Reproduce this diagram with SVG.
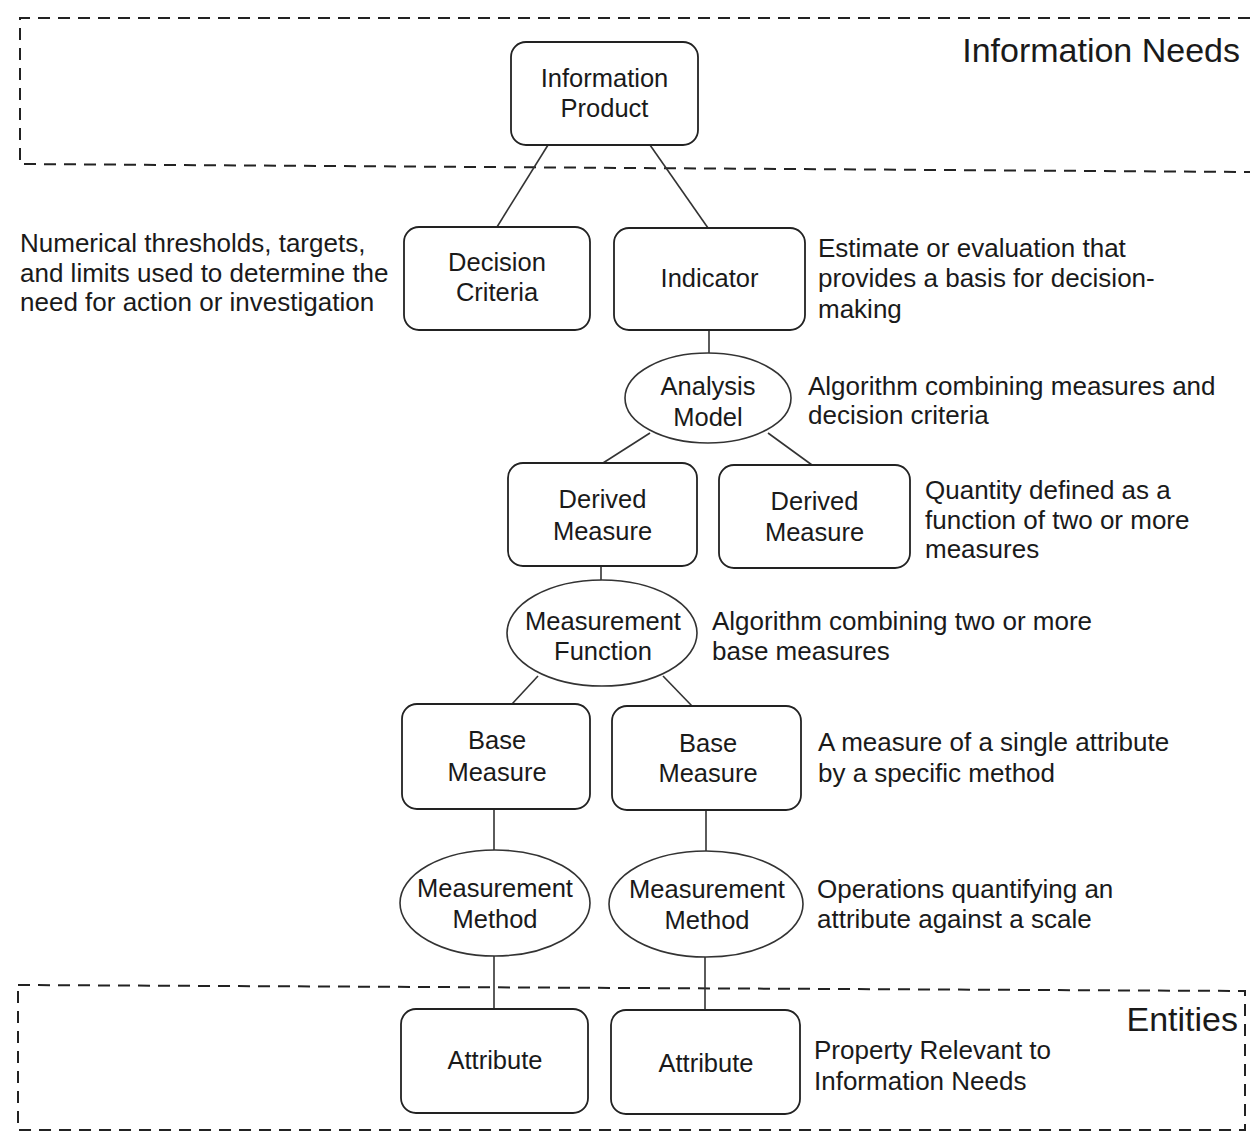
<svg xmlns="http://www.w3.org/2000/svg" width="1250" height="1135" viewBox="0 0 1250 1135">
<style>
  .bg{fill:#ffffff}
  .zone{fill:none;stroke:#222;stroke-width:2;stroke-dasharray:12 8}
  .box{fill:#ffffff;stroke:#222;stroke-width:1.8}
  .ell{fill:#ffffff;stroke:#333;stroke-width:1.6}
  .edge{stroke:#333;stroke-width:1.6;fill:none}
  text{font-family:"Liberation Sans",Arial,Helvetica,sans-serif;fill:#1a1a1a}
  .n{font-size:25.5px;text-anchor:middle}
  .d{font-size:26px}
  .t{font-size:34px;text-anchor:end}
</style>
<rect class="bg" x="0" y="0" width="1250" height="1135"/>

<g id="zone-information-needs">
  <path class="zone" d="M1250,18 H20 V164 L1250,172"/>
  <text class="t" x="1240" y="62">Information Needs</text>
</g>
<g id="zone-entities">
  <path class="zone" d="M18,985 L1245,991 V1130 H18 Z"/>
  <text class="t" x="1238" y="1031">Entities</text>
</g>

<g id="connectors">
  <line class="edge" x1="548" y1="145" x2="497" y2="227"/>
  <line class="edge" x1="650" y1="145" x2="708" y2="228"/>
  <line class="edge" x1="709" y1="330" x2="709" y2="353"/>
  <line class="edge" x1="650" y1="433" x2="603" y2="463"/>
  <line class="edge" x1="768" y1="433" x2="812" y2="465"/>
  <line class="edge" x1="601" y1="566" x2="601" y2="580"/>
  <line class="edge" x1="538" y1="676" x2="512" y2="704"/>
  <line class="edge" x1="663" y1="676" x2="692" y2="706"/>
  <line class="edge" x1="494" y1="809" x2="494" y2="850"/>
  <line class="edge" x1="706" y1="810" x2="706" y2="851"/>
  <line class="edge" x1="494" y1="956" x2="494" y2="1009"/>
  <line class="edge" x1="705" y1="957" x2="705" y2="1010"/>
</g>

<g id="information-product">
  <rect class="box" x="511" y="42" width="187" height="103" rx="15"/>
  <text class="n" x="604.5" y="87">Information</text>
  <text class="n" x="604.5" y="117">Product</text>
</g>

<g id="decision-criteria">
  <rect class="box" x="404" y="227" width="186" height="103" rx="15"/>
  <text class="n" x="497" y="271">Decision</text>
  <text class="n" x="497" y="301">Criteria</text>
  <text class="d" x="20" y="252">Numerical thresholds, targets,</text>
  <text class="d" x="20" y="282">and limits used to determine the</text>
  <text class="d" x="20" y="311">need for action or investigation</text>
</g>

<g id="indicator">
  <rect class="box" x="614" y="228" width="191" height="102" rx="15"/>
  <text class="n" x="709.5" y="287">Indicator</text>
  <text class="d" x="818" y="257">Estimate or evaluation that</text>
  <text class="d" x="818" y="287">provides a basis for decision-</text>
  <text class="d" x="818" y="318">making</text>
</g>

<g id="analysis-model">
  <ellipse class="ell" cx="708" cy="398" rx="83" ry="45"/>
  <text class="n" x="708" y="395">Analysis</text>
  <text class="n" x="708" y="426">Model</text>
  <text class="d" x="808" y="395">Algorithm combining measures and</text>
  <text class="d" x="808" y="424">decision criteria</text>
</g>

<g id="derived-measure-1">
  <rect class="box" x="508" y="463" width="189" height="103" rx="15"/>
  <text class="n" x="602.5" y="508">Derived</text>
  <text class="n" x="602.5" y="540">Measure</text>
</g>

<g id="derived-measure-2">
  <rect class="box" x="719" y="465" width="191" height="103" rx="15"/>
  <text class="n" x="814.5" y="510">Derived</text>
  <text class="n" x="814.5" y="541">Measure</text>
  <text class="d" x="925" y="499">Quantity defined as a</text>
  <text class="d" x="925" y="529">function of two or more</text>
  <text class="d" x="925" y="558">measures</text>
</g>

<g id="measurement-function">
  <ellipse class="ell" cx="602" cy="633" rx="95" ry="53"/>
  <text class="n" x="603" y="630">Measurement</text>
  <text class="n" x="603" y="660">Function</text>
  <text class="d" x="712" y="630">Algorithm combining two or more</text>
  <text class="d" x="712" y="660">base measures</text>
</g>

<g id="base-measure-1">
  <rect class="box" x="402" y="704" width="188" height="105" rx="15"/>
  <text class="n" x="497" y="749">Base</text>
  <text class="n" x="497" y="781">Measure</text>
</g>

<g id="base-measure-2">
  <rect class="box" x="612" y="706" width="189" height="104" rx="15"/>
  <text class="n" x="708" y="752">Base</text>
  <text class="n" x="708" y="782">Measure</text>
  <text class="d" x="818" y="751">A measure of a single attribute</text>
  <text class="d" x="818" y="782">by a specific method</text>
</g>

<g id="measurement-method-1">
  <ellipse class="ell" cx="495" cy="903" rx="95" ry="53"/>
  <text class="n" x="495" y="897">Measurement</text>
  <text class="n" x="495" y="928">Method</text>
</g>

<g id="measurement-method-2">
  <ellipse class="ell" cx="706" cy="904" rx="97" ry="53"/>
  <text class="n" x="707" y="898">Measurement</text>
  <text class="n" x="707" y="929">Method</text>
  <text class="d" x="817" y="898">Operations quantifying an</text>
  <text class="d" x="817" y="928">attribute against a scale</text>
</g>

<g id="attribute-1">
  <rect class="box" x="401" y="1009" width="187" height="104" rx="15"/>
  <text class="n" x="495" y="1069">Attribute</text>
</g>

<g id="attribute-2">
  <rect class="box" x="611" y="1010" width="189" height="104" rx="15"/>
  <text class="n" x="706" y="1072">Attribute</text>
  <text class="d" x="814" y="1059">Property Relevant to</text>
  <text class="d" x="814" y="1090">Information Needs</text>
</g>
</svg>
